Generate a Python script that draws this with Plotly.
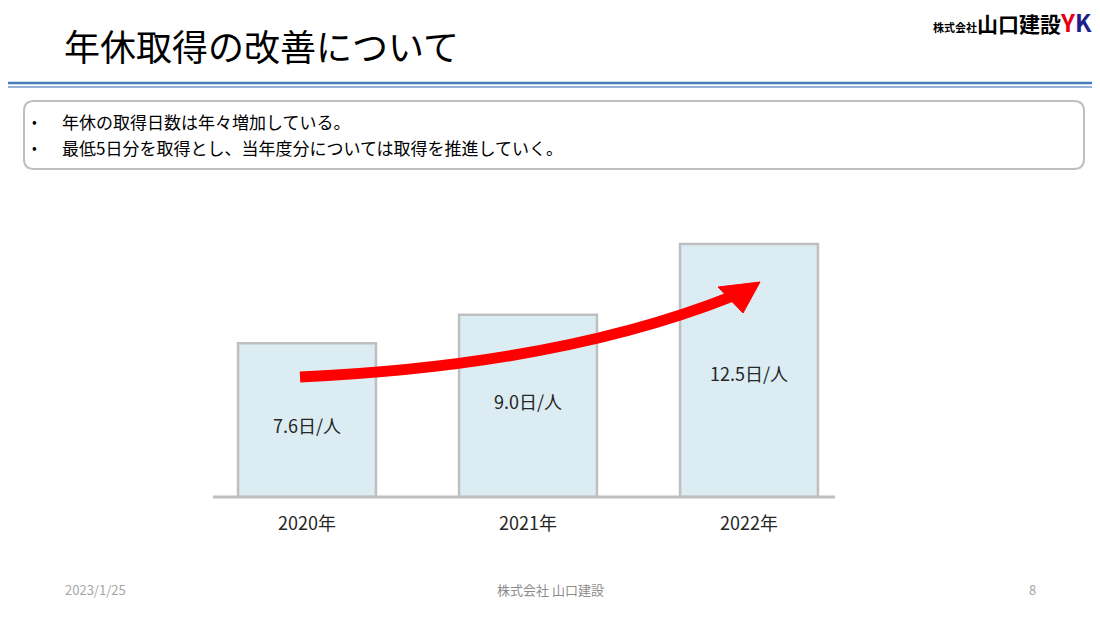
import plotly.graph_objects as go

years = ["2020年", "2021年", "2022年"]
days = [7.6, 9.0, 12.5]
labels = ["7.6日/人", "9.0日/人", "12.5日/人"]
label_y = [3.56, 4.74, 6.13]

W, H = 1100, 619
OFF = 8  # page margin of the html body
FONT = "Noto Sans CJK JP, Noto Sans, sans-serif"


def px(x, y):
    return (x - OFF) / W, 1 - (y - OFF) / H


fig = go.Figure()
fig.add_trace(go.Bar(
    x=years, y=days, width=0.624,
    marker=dict(color="#dbecf2", line=dict(color="#bfbfbf", width=2.5)),
    hoverinfo="skip",
))
for yr, lab, ly in zip(years, labels, label_y):
    fig.add_annotation(x=yr, y=ly, text=lab, showarrow=False,
                       font=dict(size=18, color="#262626"))

shapes = []
# baseline
x0, y0 = px(213, 497)
x1, _ = px(835, 497)
shapes.append(dict(type="line", xref="paper", yref="paper", x0=x0, y0=y0, x1=x1, y1=y0,
                   line=dict(color="#bfbfbf", width=3), layer="above"))
# arrow shaft (curve)
a = px(300, 377); c = px(560, 365); b = px(733, 296)
shapes.append(dict(type="path", xref="paper", yref="paper",
                   path=f"M {a[0]},{a[1]} Q {c[0]},{c[1]} {b[0]},{b[1]}",
                   line=dict(color="#ff0000", width=11), layer="above"))
t = px(760, 282); p1 = px(718, 287); p2 = px(743, 313)
shapes.append(dict(type="path", xref="paper", yref="paper",
                   path=f"M {t[0]},{t[1]} L {p1[0]},{p1[1]} L {p2[0]},{p2[1]} Z",
                   fillcolor="#ff0000", line=dict(color="#ff0000", width=1), layer="above"))
# header lines
for yy, col, w in [(83, "#4a7ebb", 2.5), (87, "#95b3d7", 2)]:
    q0 = px(0, yy)
    shapes.append(dict(type="line", xref="paper", yref="paper", x0=0, y0=q0[1], x1=1, y1=q0[1],
                       line=dict(color=col, width=w)))
# text box
r0 = px(24, 101); r1 = px(1084, 169)
rx = 10 / W; ry = 10 / H
X0, Y0, X1, Y1 = r0[0], r1[1], r1[0], r0[1]
shapes.append(dict(type="path", xref="paper", yref="paper",
                   path=(f"M {X0+rx},{Y1} L {X1-rx},{Y1} Q {X1},{Y1} {X1},{Y1-ry} "
                         f"L {X1},{Y0+ry} Q {X1},{Y0} {X1-rx},{Y0} L {X0+rx},{Y0} "
                         f"Q {X0},{Y0} {X0},{Y0+ry} L {X0},{Y1-ry} Q {X0},{Y1} {X0+rx},{Y1} Z"),
                   line=dict(color="#bfbfbf", width=2), fillcolor="rgba(0,0,0,0)"))

def txt(x, y, s, size, color="#262626", anchor="left"):
    p = px(x, y)
    fig.add_annotation(xref="paper", yref="paper", x=p[0], y=p[1], text=s, showarrow=False,
                       xanchor=anchor, yanchor="middle", font=dict(size=size, color=color, family=FONT))

txt(62, 45, "年休取得の改善について", 36, "#000000")
txt(30, 121, "•", 14, "#000000")
txt(60, 121, "年休の取得日数は年々増加している。", 17, "#000000")
txt(30, 147, "•", 14, "#000000")
txt(60, 147, "最低5日分を取得とし、当年度分については取得を推進していく。", 17, "#000000")
txt(1094, 21, "<b><span style='font-size:11px'>株式会社</span><span style='font-size:21px'>山口建設</span>"
    "<span style='font-size:24px;color:#e60012'>Y</span><span style='font-size:24px;color:#1d2088'>K</span></b>",
    21, "#000000", "right")
txt(63, 589, "2023/1/25", 13, "#a6a6a6")
txt(550, 589, "株式会社 山口建設", 13, "#8c8c8c", "center")
txt(1038, 589, "8", 13, "#a6a6a6", "right")

ybase = px(0, 497)[1]
ytop = px(0, 497 - 14 * 20.24)[1]
fig.update_layout(
    width=W, height=H, margin=dict(l=0, r=0, t=0, b=0),
    paper_bgcolor="white", plot_bgcolor="white", showlegend=False,
    font=dict(family=FONT),
    shapes=shapes,
    xaxis=dict(domain=[px(196.5, 0)[0], px(859.5, 0)[0]], range=[-0.5, 2.5], showgrid=False, zeroline=False,
               showline=False, ticks="", ticklabelstandoff=14, tickfont=dict(size=18, color="#262626")),
    yaxis=dict(domain=[ybase, ytop], range=[0, 14], visible=False),
)
fig.write_html("out.html")
